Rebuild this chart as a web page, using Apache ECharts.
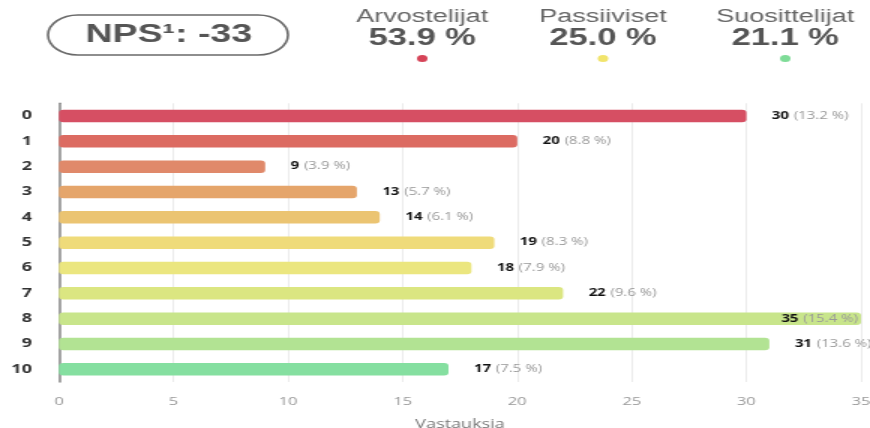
<!DOCTYPE html>
<html>
<head>
<meta charset="utf-8">
<script src="https://cdn.jsdelivr.net/npm/echarts@6/dist/echarts.min.js"></script>
<style>
  html, body { margin: 0; padding: 0; background: #fff; overflow: hidden; }
  /* the reference is stretched horizontally by about 1.5x, so draw narrow and stretch */
  #chart { width: 580px; height: 428px; transform: scaleX(1.5); transform-origin: 0 0; }
</style>
</head>
<body>
<div id="chart"></div>
<script>
// --- data ---
const scores   = ['0', '1', '2', '3', '4', '5', '6', '7', '8', '9', '10'];
const counts   = [30, 20, 9, 13, 14, 19, 18, 22, 35, 31, 17];
const percents = [13.2, 8.8, 3.9, 5.7, 6.1, 8.3, 7.9, 9.6, 15.4, 13.6, 7.5];
const barColors = ['#d64f63', '#dc6b62', '#e0896a', '#e5a56b', '#ebc472', '#efdb7a',
                   '#ebe67f', '#dbe681', '#c8e58b', '#b2e393', '#85dfa0'];

const npsLabel    = 'NPS¹: -33';
const groupNames  = ['Arvostelijat', 'Passiiviset', 'Suosittelijat'];
const groupShares = ['53.9 %', '25.0 %', '21.1 %'];
const groupColors = ['#d64458', '#f1e46c', '#7fdc98'];
const groupX      = [281.5, 402, 523.5];   // in unstretched px

const chart = echarts.init(document.getElementById('chart'), null, { renderer: 'canvas' });

const header = [
  {
    type: 'rect',
    shape: { x: 32, y: 15, width: 160, height: 40, r: 20 },
    style: { fill: 'none', stroke: '#6a6a6a', lineWidth: 1.6 }
  },
  {
    type: 'text',
    x: 112.5, y: 35.5,
    style: {
      text: npsLabel, fill: '#555', font: 'bold 25px "Liberation Sans", Arial, sans-serif',
      align: 'center', verticalAlign: 'middle'
    }
  }
];
groupNames.forEach((name, i) => {
  header.push(
    { type: 'text', x: groupX[i], y: 17,
      style: { text: name, fill: '#666', font: '18px "Liberation Sans", Arial, sans-serif',
               align: 'center', verticalAlign: 'middle' } },
    { type: 'text', x: groupX[i], y: 38.5,
      style: { text: groupShares[i], fill: '#555', font: 'bold 23px "Liberation Sans", Arial, sans-serif',
               align: 'center', verticalAlign: 'middle' } },
    { type: 'circle', shape: { cx: groupX[i], cy: 58.5, r: 3.5 }, style: { fill: groupColors[i] } }
  );
});

const maxVal = 35;

chart.setOption({
  animation: false,
  backgroundColor: '#fff',
  textStyle: { fontFamily: '"Open Sans", sans-serif' },
  graphic: header,
  grid: { left: 39.3, right: 6, top: 103.3, bottom: 46, containLabel: false, outerBoundsMode: 'none' },
  xAxis: {
    type: 'value',
    min: 0, max: 35, interval: 5,
    name: 'Vastauksia',
    nameLocation: 'middle',
    nameGap: 37,
    nameTextStyle: { color: '#777', fontSize: 12, letterSpacing: 0.5 },
    axisLine: { show: false },
    axisTick: { show: false },
    axisLabel: { color: '#999', fontSize: 11, margin: 14 },
    splitLine: { lineStyle: { color: '#ececec', width: 1 } }
  },
  yAxis: {
    type: 'category',
    data: scores,
    inverse: true,
    axisLine: { lineStyle: { color: '#888', width: 1.5 } },
    axisTick: { show: false },
    axisLabel: { color: '#333', fontSize: 12, fontWeight: 'bold', margin: 18 }
  },
  series: [{
    type: 'bar',
    barWidth: 12.5,
    data: counts.map((v, i) => ({
      value: v,
      itemStyle: { color: barColors[i], borderRadius: 3 },
      label: v >= maxVal ? { position: 'insideRight', distance: 2 } : undefined
    })),
    label: {
      show: true,
      position: 'right',
      distance: 17,
      formatter: p => `{v|${p.value}} {p|(${percents[p.dataIndex].toFixed(1)} %)}`,
      rich: {
        v: { color: '#111', fontWeight: 'bold', fontSize: 10, fontFamily: '"Open Sans", sans-serif' },
        p: { color: '#999', fontSize: 10, fontFamily: '"Open Sans", sans-serif' }
      }
    }
  }]
});
</script>
</body>
</html>
